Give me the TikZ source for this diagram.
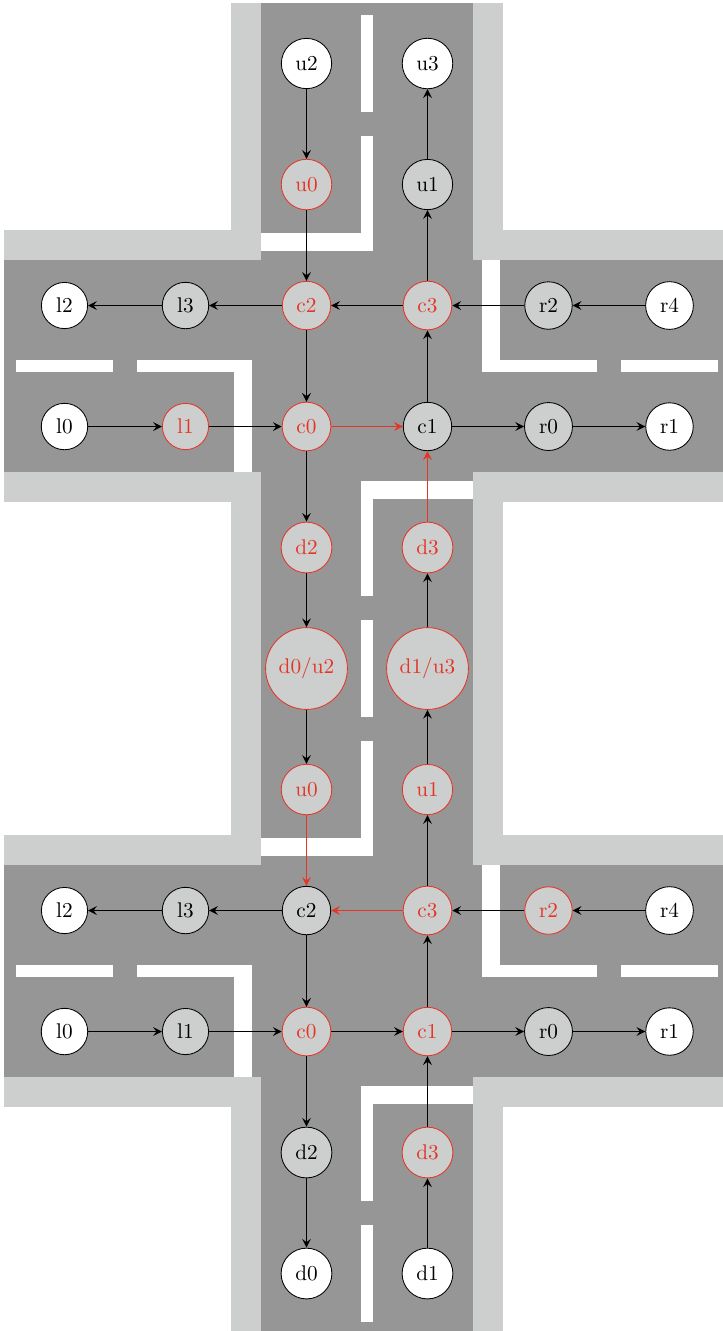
\documentclass[tikz,border=0pt]{standalone}
\usepackage{tikz}
\usetikzlibrary{arrows.meta, positioning}

\definecolor{roadgray}{RGB}{150,150,150}
\definecolor{curbgray}{RGB}{205,207,206}
\definecolor{hotred}{RGB}{228,53,39}

\begin{document}
\begin{tikzpicture}[
      node distance=2cm, on grid,
      curb/.style={fill=curbgray},
      road/.style={fill=roadgray},
      paint/.style={fill=white},
      cell/.style={circle, draw, line width=0.4pt, inner sep=4pt},
      free/.style={cell, fill=white},
      held/.style={cell, fill=curbgray},
      hit/.style={cell, fill=curbgray, draw=hotred, text=hotred},
      arrow/.style={thick,->,>=stealth},
      hitarrow/.style={arrow, draw=hotred}
    ]
    \useasboundingbox (-0.066,0.05) rectangle (11.884,-21.95);

    % curbs
    \fill [curb] (3.75,0) rectangle (8.25,-21.95);
    \fill [curb] (0,-3.75) rectangle (11.884,-8.25);
    \fill [curb] (0,-13.75) rectangle (11.884,-18.25);
    % roads
    \fill [road] (4.25,0) rectangle (7.75,-21.95);
    \fill [road] (0,-4.25) rectangle (11.884,-7.75);
    \fill [road] (0,-14.25) rectangle (11.884,-17.75);

    % top crossing
    \fill [paint] (5.9,-0.2) rectangle (6.1,-1.8);
    \fill [paint] (5.9,-2.2) rectangle (6.1,-3.8);
    \fill [paint] (4.25,-3.8) rectangle (6.1,-4.1);
    \fill [paint] (0.2,-5.9) rectangle (1.8,-6.1);
    \fill [paint] (2.2,-5.9) rectangle (3.8,-6.1);
    \fill [paint] (3.8,-5.9) rectangle (4.1,-7.75);
    \fill [paint] (7.9,-4.25) rectangle (8.2,-6.1);
    \fill [paint] (7.9,-5.9) rectangle (9.8,-6.1);
    \fill [paint] (10.2,-5.9) rectangle (11.8,-6.1);
    \fill [paint] (5.9,-7.9) rectangle (7.75,-8.2);
    \fill [paint] (5.9,-7.9) rectangle (6.1,-9.8);
    % between the crossings
    \fill [paint] (5.9,-10.2) rectangle (6.1,-11.8);
    % bottom crossing
    \fill [paint] (5.9,-12.2) rectangle (6.1,-13.8);
    \fill [paint] (4.25,-13.8) rectangle (6.1,-14.1);
    \fill [paint] (0.2,-15.9) rectangle (1.8,-16.1);
    \fill [paint] (2.2,-15.9) rectangle (3.8,-16.1);
    \fill [paint] (3.8,-15.9) rectangle (4.1,-17.75);
    \fill [paint] (7.9,-14.25) rectangle (8.2,-16.1);
    \fill [paint] (7.9,-15.9) rectangle (9.8,-16.1);
    \fill [paint] (10.2,-15.9) rectangle (11.8,-16.1);
    \fill [paint] (5.9,-17.9) rectangle (7.75,-18.2);
    \fill [paint] (5.9,-17.9) rectangle (6.1,-19.8);
    \fill [paint] (5.9,-20.2) rectangle (6.1,-21.8);

    \node [free] (tu2) at (5,-1) {u2};
    \node [free, right=of tu2] (tu3) {u3};
    \node [hit, below=of tu2] (tu0) {u0};
    \node [held, below=of tu3] (tu1) {u1};
    \node [hit, below=of tu0] (tc2) {c2};
    \node [hit, below=of tu1] (tc3) {c3};
    \node [held, left=of tc2] (tl3) {l3};
    \node [free, left=of tl3] (tl2) {l2};
    \node [held, right=of tc3] (tr2) {r2};
    \node [free, right=of tr2] (tr4) {r4};
    \node [hit, below=of tc2] (tc0) {c0};
    \node [held, below=of tc3] (tc1) {c1};
    \node [hit, left=of tc0] (tl1) {l1};
    \node [free, left=of tl1] (tl0) {l0};
    \node [held, right=of tc1] (tr0) {r0};
    \node [free, right=of tr0] (tr1) {r1};
    \node [hit, below=of tc0] (td2) {d2};
    \node [hit, below=of tc1] (td3) {d3};
    \node [hit, below=of td2] (d0u2) {d0/u2};
    \node [hit, below=of td3] (d1u3) {d1/u3};
    \node [hit, below=of d0u2] (bu0) {u0};
    \node [hit, below=of d1u3] (bu1) {u1};
    \node [held, below=of bu0] (bc2) {c2};
    \node [hit, below=of bu1] (bc3) {c3};
    \node [held, left=of bc2] (bl3) {l3};
    \node [free, left=of bl3] (bl2) {l2};
    \node [hit, right=of bc3] (br2) {r2};
    \node [free, right=of br2] (br4) {r4};
    \node [hit, below=of bc2] (bc0) {c0};
    \node [hit, below=of bc3] (bc1) {c1};
    \node [held, left=of bc0] (bl1) {l1};
    \node [free, left=of bl1] (bl0) {l0};
    \node [held, right=of bc1] (br0) {r0};
    \node [free, right=of br0] (br1) {r1};
    \node [held, below=of bc0] (bd2) {d2};
    \node [hit, below=of bc1] (bd3) {d3};
    \node [free, below=of bd2] (bd0) {d0};
    \node [free, below=of bd3] (bd1) {d1};

    \draw [arrow] (tu2) -- (tu0);
    \draw [arrow] (tu0) -- (tc2);
    \draw [arrow] (tc2) -- (tl3);
    \draw [arrow] (tl3) -- (tl2);
    \draw [arrow] (tc2) -- (tc0);
    \draw [arrow] (tc3) -- (tc2);
    \draw [arrow] (tc3) -- (tu1);
    \draw [arrow] (tu1) -- (tu3);
    \draw [arrow] (tr4) -- (tr2);
    \draw [arrow] (tr2) -- (tc3);
    \draw [arrow] (tl0) -- (tl1);
    \draw [arrow] (tl1) -- (tc0);
    \draw [hitarrow] (tc0) -- (tc1);
    \draw [arrow] (tc1) -- (tc3);
    \draw [arrow] (tc1) -- (tr0);
    \draw [arrow] (tr0) -- (tr1);
    \draw [arrow] (tc0) -- (td2);
    \draw [hitarrow] (td3) -- (tc1);
    \draw [arrow] (td2) -- (d0u2);
    \draw [arrow] (d1u3) -- (td3);
    \draw [arrow] (d0u2) -- (bu0);
    \draw [arrow] (bu1) -- (d1u3);
    \draw [hitarrow] (bu0) -- (bc2);
    \draw [arrow] (bc3) -- (bu1);
    \draw [hitarrow] (bc3) -- (bc2);
    \draw [arrow] (bc2) -- (bl3);
    \draw [arrow] (bl3) -- (bl2);
    \draw [arrow] (bc2) -- (bc0);
    \draw [arrow] (br4) -- (br2);
    \draw [arrow] (br2) -- (bc3);
    \draw [arrow] (bl0) -- (bl1);
    \draw [arrow] (bl1) -- (bc0);
    \draw [arrow] (bc0) -- (bc1);
    \draw [arrow] (bc1) -- (bc3);
    \draw [arrow] (bc1) -- (br0);
    \draw [arrow] (br0) -- (br1);
    \draw [arrow] (bc0) -- (bd2);
    \draw [arrow] (bd2) -- (bd0);
    \draw [arrow] (bd3) -- (bc1);
    \draw [arrow] (bd1) -- (bd3);
  \end{tikzpicture}
\end{document}
